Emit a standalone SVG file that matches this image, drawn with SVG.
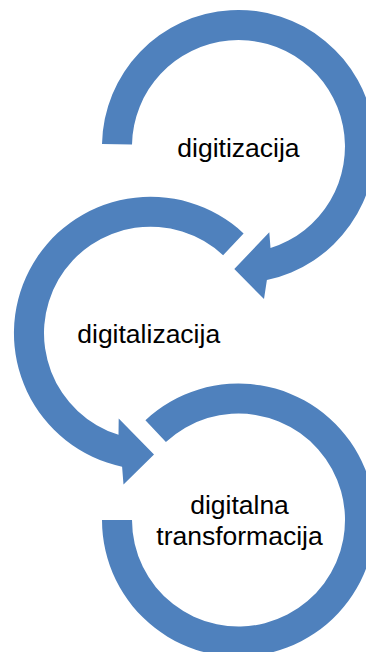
<svg xmlns="http://www.w3.org/2000/svg" width="366" height="652" viewBox="0 0 366 652">
<style>
.arrow{fill:#4F81BD;stroke:none}
.lbl{font-family:"Liberation Sans",Arial,sans-serif;font-size:26.5px;fill:#000;text-anchor:middle}
</style>
<rect width="366" height="652" fill="#fff"/>
<g id="connectors">
<path id="arrow1" class="arrow" d="M102.0,144.1 A136.5,136.5 0 1 1 266.9,280.0 L264,299 L234.3,269 L269.3,232.3 L270.5,248.1 A106.5,106.5 0 1 0 132.0,144.6 Z"/>
<path id="arrow2" class="arrow" d="M243.6,233.4 A136.5,136.5 0 1 0 122.1,466.7 L123.5,484.5 L154,454.5 L118.7,418.6 L118.5,434.8 A106.5,106.5 0 1 1 223.1,255.3 Z"/>
<path id="arrow3" class="arrow" d="M145.4,420.2 A136.5,136.5 0 1 1 102,520 L132,520 A106.5,106.5 0 1 0 165.9,442.1 Z"/>
</g>
<g id="node1"><text class="lbl" x="238.5" y="156.7">digitizacija</text></g>
<g id="node2"><text class="lbl" x="148.7" y="342.7">digitalizacija</text></g>
<g id="node3"><text class="lbl" x="239.5" y="514">digitalna</text><text class="lbl" x="239.5" y="544.5">transformacija</text></g>
</svg>
